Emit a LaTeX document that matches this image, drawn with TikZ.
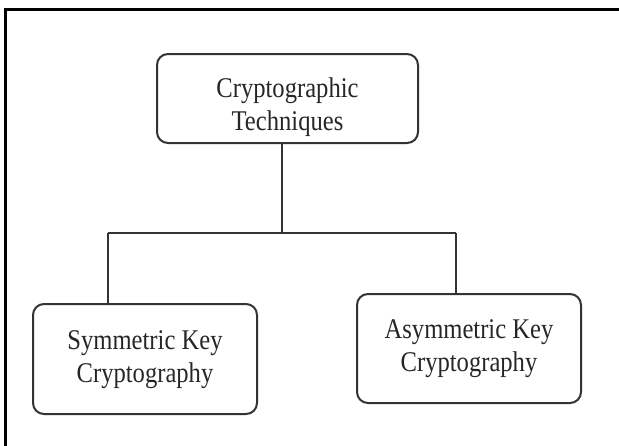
\documentclass[tikz,border=0pt]{standalone}
\usepackage{fontspec}
\usepackage{graphicx}
\setmainfont{Liberation Serif}
\newcommand{\tallsplit}[2]{\scalebox{1}[1.16]{\begin{tabular}{@{}c@{}}#1\\#2\end{tabular}}}
\begin{document}
\begin{tikzpicture}[x=1pt,y=-1pt,
  box/.style={draw=black!80, line width=2pt, rounded corners=11pt, inner sep=0pt,
    align=center, font=\fontsize{24.6}{28.5}\selectfont, text=black!85},
  link/.style={draw=black!80, line width=2pt},
  frame/.style={draw=black, line width=3pt}]
\useasboundingbox (0,0) rectangle (619,445);
\draw[frame] (5.5,446) -- (5.5,9.5) -- (620,9.5);
\renewcommand{\arraystretch}{1}
\node[box, minimum width=261pt, minimum height=89pt] (top) at (287.5,98.5)
  {\raisebox{-9pt}[\height][\depth]{\tallsplit{Cryptographic}{Techniques}}};
\node[box, minimum width=224pt, minimum height=110pt] (sym) at (145,359)
  {\tallsplit{Symmetric Key}{Cryptography}};
\node[box, minimum width=224pt, minimum height=109pt] (asym) at (469,348.5)
  {\tallsplit{Asymmetric Key}{Cryptography}};
\coordinate (bus) at (282,233);
\coordinate (bl) at (108,233);
\coordinate (br) at (456,233);
\draw[link] (top.south -| bus) -- (bus);
\draw[link] (bl) -- (br);
\draw[link] (bl) -- (bl |- sym.north);
\draw[link] (br) -- (br |- asym.north);
\end{tikzpicture}
\end{document}
